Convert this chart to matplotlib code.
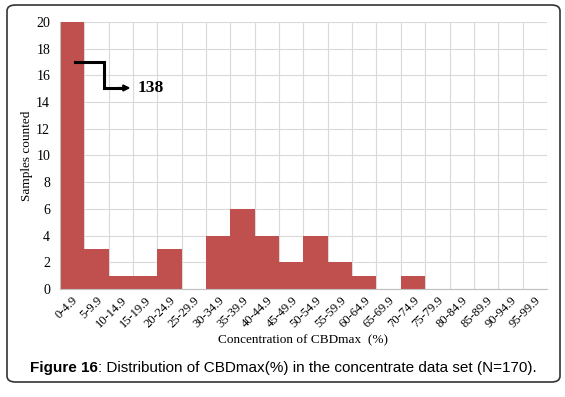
import matplotlib.pyplot as plt
from matplotlib.patches import FancyBboxPatch

categories = ["0-4.9", "5-9.9", "10-14.9", "15-19.9", "20-24.9", "25-29.9",
              "30-34.9", "35-39.9", "40-44.9", "45-49.9", "50-54.9", "55-59.9",
              "60-64.9", "65-69.9", "70-74.9", "75-79.9", "80-84.9", "85-89.9",
              "90-94.9", "95-99.9"]
# first bin is really 138, axis clipped at 20
counts = [138, 3, 1, 1, 3, 0, 4, 6, 4, 2, 4, 2, 1, 0, 1, 0, 0, 0, 0, 0]
y_ticks = [0, 2, 4, 6, 8, 10, 12, 14, 16, 18, 20]

serif = "Liberation Serif"

fig = plt.figure(figsize=(5.65, 3.97), dpi=100)
ax = fig.add_axes([0.106, 0.272, 0.862, 0.673])

pos = list(range(len(categories)))
ax.bar(pos, counts, width=1.0, align="edge", color="#C0504D", zorder=2)

ax.set_xlim(0, len(categories))
ax.set_ylim(0, 20)
ax.set_yticks(y_ticks)
ax.set_xticks(range(len(categories) + 1), minor=False)
ax.set_xticklabels([])
ax.set_xticks([p + 0.5 for p in pos], minor=True)
ax.set_xticklabels(categories, minor=True, rotation=45, ha="right",
                   rotation_mode="anchor", fontsize=9, family=serif)
ax.tick_params(axis="x", which="both", length=0, pad=4)
ax.tick_params(axis="y", length=0, labelsize=10, pad=7)
for t in ax.get_yticklabels():
    t.set_family(serif)

ax.grid(True, which="major", color="#d9d9d9", lw=0.8, zorder=0)
for s in ["top", "right"]:
    ax.spines[s].set_visible(False)
ax.spines["left"].set_color("#bfbfbf")
ax.spines["bottom"].set_color("#bfbfbf")

ax.set_ylabel("Samples counted", family=serif, fontsize=9.5, labelpad=2)
ax.set_xlabel("Concentration of CBDmax  (%)", family=serif, fontsize=9.5, labelpad=3)

# break marker for the off-scale first bin
ax.plot([0.62, 1.8, 1.8, 2.5], [17, 17, 15.05, 15.05], color="black", lw=2.2,
        zorder=3, solid_joinstyle="miter")
ax.annotate("", xy=(2.9, 15.05), xytext=(2.4, 15.05),
            arrowprops=dict(arrowstyle="-|>", color="black", lw=1.5,
                            mutation_scale=9, shrinkA=0, shrinkB=0), zorder=3)
ax.text(3.2, 15.05, str(counts[0]), family=serif, fontsize=12.5,
        fontweight="bold", va="center", ha="left", zorder=3)

# rounded frame round the whole figure
frame = FancyBboxPatch((7 / 565, 15 / 397), 553 / 565, 377 / 397,
                       boxstyle="round,pad=0,rounding_size=0.015",
                       transform=fig.transFigure, fill=False,
                       edgecolor="#333333", lw=1.2)
fig.patches.append(frame)

cap_y = 1 - 368 / 397
t1 = fig.text(30 / 565, cap_y, "Figure 16", fontsize=11, fontweight="bold",
              family="Liberation Sans", va="center", ha="left")
r = fig.canvas.get_renderer()
bb = t1.get_window_extent(renderer=r)
fig.text(bb.x1 / (565), cap_y,
         ": Distribution of CBDmax(%) in the concentrate data set (N=170).",
         fontsize=11, family="Liberation Sans", va="center", ha="left")

fig.savefig("out.png", dpi=100)
